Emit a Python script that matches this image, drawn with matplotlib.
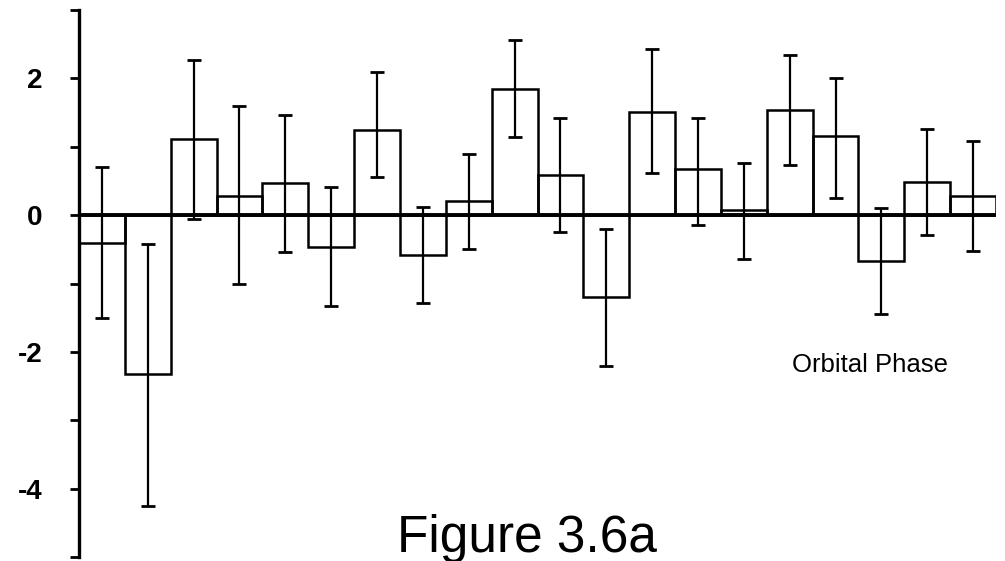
import numpy as np
import matplotlib
matplotlib.use("Agg")
import matplotlib.pyplot as plt

# 20 orbital phase bins, value per bin with error bar ends
bins = np.arange(20)
values = [-0.41, -2.33, 1.11, 0.28, 0.47, -0.46, 1.24, -0.58, 0.21, 1.84,
          0.59, -1.20, 1.51, 0.67, 0.07, 1.54, 1.16, -0.67, 0.49, 0.28]
err_lo = [1.10, 1.93, 1.17, 1.29, 1.01, 0.87, 0.68, 0.70, 0.70, 0.70,
          0.84, 1.00, 0.90, 0.82, 0.71, 0.81, 0.91, 0.78, 0.78, 0.80]
err_hi = [1.11, 1.91, 1.16, 1.32, 1.00, 0.87, 0.85, 0.70, 0.69, 0.72,
          0.83, 1.00, 0.92, 0.75, 0.69, 0.80, 0.85, 0.77, 0.77, 0.80]
major_ticks = [-4, -2, 0, 2]
minor_ticks = [-5, -3, -1, 1, 3]

plt.rcParams['font.family'] = ['Liberation Sans', 'DejaVu Sans']

fig = plt.figure(figsize=(10.05, 5.61), dpi=100)
ax = fig.add_axes([79 / 1005, 1 - 557 / 561, 917 / 1005, 547 / 561])

# step-style bars, outline only
ax.bar(bins, values, width=1.0, align='edge', fill=False,
       edgecolor='black', linewidth=1.8)
ax.errorbar(bins + 0.5, values, yerr=[err_lo, err_hi], fmt='none',
            ecolor='black', elinewidth=1.6, capsize=4.8, capthick=2.0)
ax.axhline(0, color='black', linewidth=2.8)

ax.set_xlim(0, 20); ax.set_ylim(-5, 3)
for s in ['top', 'right', 'bottom']:
    ax.spines[s].set_visible(False)
ax.spines['left'].set_linewidth(2.4)
ax.spines['left'].set_bounds(-5, 3)
ax.set_xticks([])
ax.set_yticks(major_ticks)
ax.set_yticks(minor_ticks, minor=True)
ax.set_yticklabels([str(t) for t in major_ticks], fontsize=20, fontweight='bold')
ax.tick_params(axis='y', which='both', direction='out', length=6.5, width=2.0, pad=20)

fig.text(792 / 1005, 1 - 372 / 561, 'Orbital Phase', fontsize=18.5, va='baseline')
fig.text(397 / 1005, 1 - 552 / 561, 'Figure 3.6a', fontsize=37, va='baseline')

fig.savefig('out.png', dpi=100)
